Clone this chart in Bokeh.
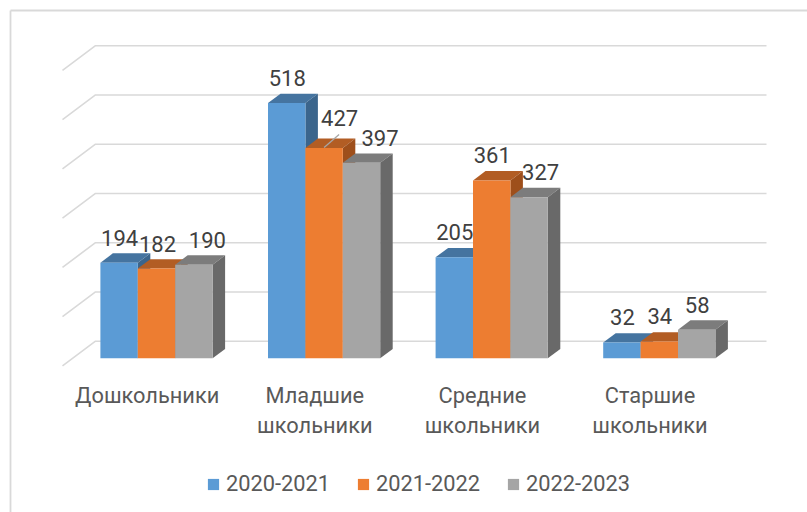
from bokeh.plotting import figure
from bokeh.models import Range1d, Legend, LegendItem
from bokeh.core.properties import value
from bokeh.embed import file_html
from bokeh.resources import INLINE

categories = ["Дошкольники", "Младшие\nшкольники", "Средние\nшкольники", "Старшие\nшкольники"]
series_names = ["2020-2021", "2021-2022", "2022-2023"]
s2020 = [194, 518, 205, 32]
s2021 = [182, 427, 361, 34]
s2022 = [190, 397, 327, 58]
grid_levels = [0, 100, 200, 300, 400, 500, 600]

front = ["#5B9BD5", "#ED7D31", "#A5A5A5"]
top = ["#4574A0", "#B25D24", "#7C7C7C"]
side = ["#3B658C", "#9E4F1B", "#696969"]
FONT = "Roboto"
TXT = "#404040"
AX = "#595959"

W, H = 807, 512
PX_X = 167.6          # px per category
PX_Y = 0.4925         # px per unit
X0, Y0 = 156.0, 357.7 # category 0 centre / value 0 inside the frame
BW = 37.4 / PX_X
DX, DY = 12.5 / PX_X, 9.3 / PX_Y
WALL_Y, FLOOR_Y = 17 / PX_Y, -7.6 / PX_Y


def xd(px):
    return (px - X0) / PX_X


def yd(px):
    return (Y0 - px) / PX_Y


p = figure(width=W, height=H, output_backend="svg", toolbar_location=None,
           x_range=Range1d(xd(0), xd(W)), y_range=Range1d(yd(H), yd(0)),
           x_axis_type=None, y_axis_type=None, min_border=0,
           background_fill_color="white", border_fill_color="white")
p.grid.visible = False
p.outline_line_color = None

# chart border (left and top edges are visible)
p.line([xd(10), xd(10)], [yd(H), yd(10)], line_color="#D9D9D9", line_width=1.8)
p.line([xd(10), xd(W)], [yd(10), yd(10)], line_color="#D9D9D9", line_width=1.8)

# walls
wall_l, wall_r, wall_f = xd(95), xd(766), xd(62)
for v in grid_levels:
    p.line([wall_f, wall_l, wall_r],
           [v + FLOOR_Y, v + WALL_Y, v + WALL_Y], line_color="#D9D9D9", line_width=1.6)

# bars
renderers = []
for i, vals in enumerate([s2020, s2021, s2022]):
    for c, v in enumerate(vals):
        l = c + (i - 1.5) * BW
        r = l + BW
        p.patch([l, r, r + DX, l + DX], [v, v, v + DY, v + DY], fill_color=top[i], line_color=None)
        p.patch([r, r + DX, r + DX, r], [0, DY, v + DY, v], fill_color=side[i], line_color=None)
        g = p.quad(left=[l], right=[r], bottom=[0], top=[v], fill_color=front[i], line_color=None)
        if c == 0:
            renderers.append(g)

# leader line
p.line([1, 1 + 15 / PX_X], [s2021[1] + 1, s2021[1] + 1 + 13 / PX_Y], line_color="#A6A6A6", line_width=1.3)

# data labels: px offsets from bar top centre
off_x = [[0.5, 1, 13.5], [0.5, 15.5, 18.5], [0.5, 0.5, 11.5], [0.5, 0.5, 0.5]]
off_y = [[-25, -25, -25], [-25, -30, -25], [-25, -25, -25], [-25, -25, -25]]
order = [s2020, s2021, s2022]
for c in range(4):
    for i in range(3):
        v = order[i][c]
        p.text([c + (i - 1) * BW], [v], text=[str(v)], x_offset=off_x[c][i], y_offset=off_y[c][i],
               text_align="center", text_baseline="middle", text_font=value(FONT),
               text_font_size="22px", text_color=TXT)

# category labels
for c, name in enumerate(categories):
    for k, t in enumerate(name.split("\n")):
        p.text([c], [0], text=[t], x_offset=-9.3, y_offset=37.5 + 30 * k,
               text_align="center", text_baseline="middle", text_font=value(FONT),
               text_font_size="21.8px", text_color=AX)

legend = Legend(items=[LegendItem(label=n, renderers=[r]) for n, r in zip(series_names, renderers)],
                orientation="horizontal", location=(206, 16), glyph_width=14, glyph_height=14,
                label_standoff=6, spacing=26, padding=0, margin=0, border_line_color=None,
                background_fill_alpha=0, label_text_font=FONT, label_text_font_size="21.8px",
                label_text_color=AX, label_height=14)
p.add_layout(legend, "center")

open("out.html", "w").write(file_html(p, INLINE))
